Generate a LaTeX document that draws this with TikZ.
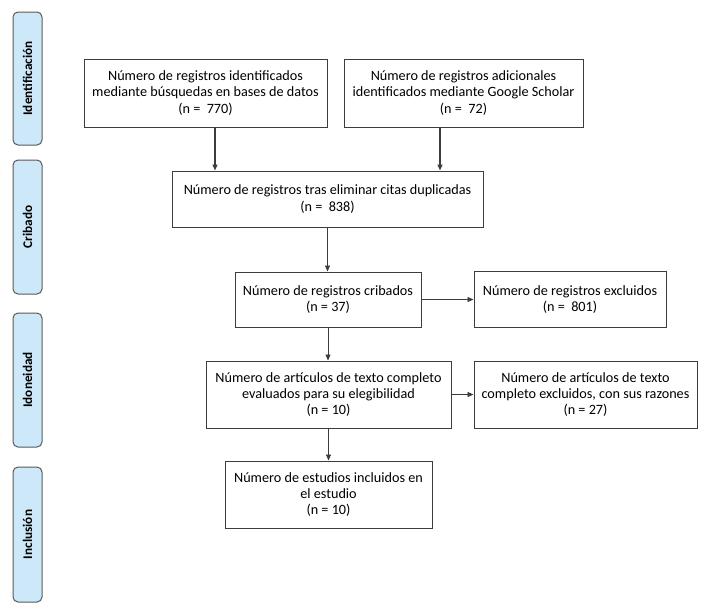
\documentclass[tikz,border=0pt]{standalone}
\usepackage{fontspec}
\setmainfont{Carlito}
\usetikzlibrary{shapes,arrows.meta,positioning}
\definecolor{phase}{HTML}{CDE9F9}
\definecolor{boxline}{HTML}{3C3C3C}

\begin{document}
\begin{tikzpicture}[
            x=1pt, y=-1pt,
            block/.style={rectangle, draw=boxline, line width=1pt, align=center, inner sep=0pt, font=\fontsize{14.2}{16.2}\selectfont},
            phasebox/.style={rectangle, draw=black!65, fill=phase, line width=1pt, rounded corners=5pt, rotate=90, minimum height=29pt, inner sep=0pt, font=\fontsize{13.2}{15}\selectfont\bfseries},
            arrow/.style={-{Triangle[length=6pt,width=5pt]}, line width=0.7pt, draw=boxline},
            bigarrow/.style={arrow, line width=1.4pt}
        ]
            \useasboundingbox (0,0) rectangle (710,611);
            % fases
            \node[phasebox, minimum width=133pt] (ident) at (27.5,78.5) {Identificación};
            \node[phasebox, minimum width=134pt] (crib) at (27.5,227) {Cribado};
            \node[phasebox, minimum width=134pt] (idon) at (27.5,380) {Idoneidad};
            \node[phasebox, minimum width=135pt] (incl) at (27.5,534.5) {Inclusión};

            \node[block, minimum width=243pt, minimum height=68pt] (bases) at (205.5,93) {Número de registros identificados\\mediante búsquedas en bases de datos\\(n = \ 770)};
            \node[block, minimum width=239pt, minimum height=68pt] (scholar) at (463.5,93) {Número de registros adicionales\\identificados mediante Google Scholar\\(n = \ 72)};
            \node[block, minimum width=311pt, minimum height=56pt] (duplic) at (327.5,199) {Número de registros tras eliminar citas duplicadas\\(n = \ 838)};
            \node[block, minimum width=186pt, minimum height=55pt] (cribados) at (328,299.5) {Número de registros cribados\\(n = 37)};
            \node[block, minimum width=192pt, minimum height=56pt, right=52pt of cribados] (excluidos) {Número de registros excluidos\\(n = \ 801)};
            \node[block, minimum width=245pt, minimum height=67pt] (evaluados) at (328.5,394.5) {Número de artículos de texto completo\\evaluados para su elegibilidad\\(n = 10)};
            \node[block, minimum width=223pt, minimum height=67pt, right=22pt of evaluados] (razones) {Número de artículos de texto\\completo excluidos, con sus razones\\(n = 27)};
            \node[block, minimum width=207pt, minimum height=67pt] (incluidos) at (328.5,494.5) {Número de estudios incluidos en\\el estudio\\(n = 10)};

            \draw[bigarrow] ([xshift=9.5pt]bases.south) -- ([xshift=9.5pt]bases.south |- duplic.north);
            \draw[bigarrow] ([xshift=-23.5pt]scholar.south) -- ([xshift=-23.5pt]scholar.south |- duplic.north);
            \draw[arrow] (duplic.south) -- (duplic.south |- cribados.north);
            \draw[arrow] (cribados.east) -- (excluidos.west);
            \draw[arrow] (cribados.south) -- (cribados.south |- evaluados.north);
            \draw[arrow] (evaluados.east) -- (razones.west);
            \draw[arrow] (evaluados.south) -- (evaluados.south |- incluidos.north);
        \end{tikzpicture}
\end{document}
